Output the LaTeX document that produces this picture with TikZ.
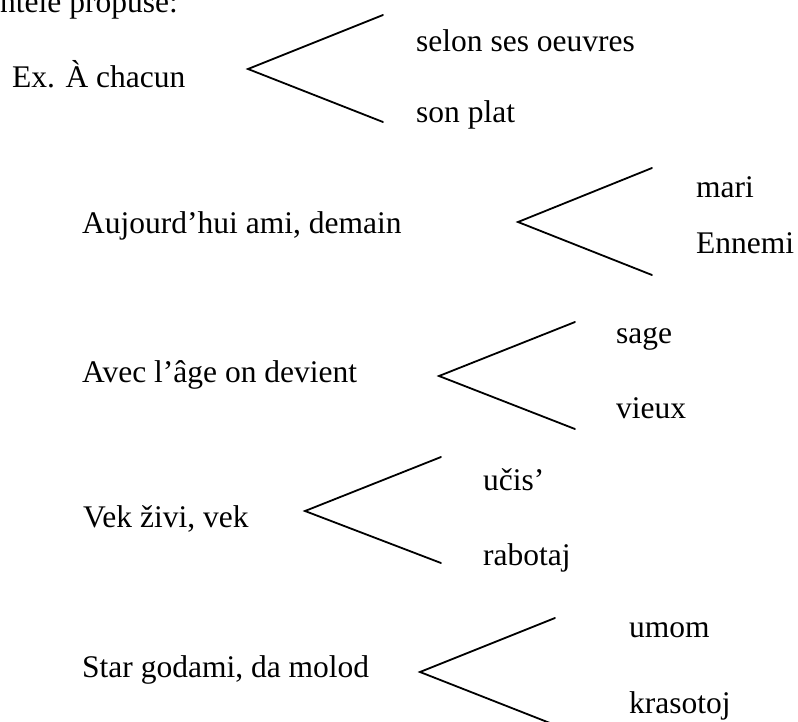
\documentclass[tikz,border=0pt]{standalone}
\usepackage{fontspec}
\setmainfont{Liberation Serif}
\begin{document}
\begin{tikzpicture}[x=1pt,y=-1pt,
  txt/.style={anchor=base west,inner sep=0pt,font=\fontsize{31.5}{36}\selectfont},
  branch/.style={line width=1.8pt,line cap=round}]
\useasboundingbox (0,0) rectangle (798,721);
\clip (0,0) rectangle (798,721);
\node[txt] (head) at (0,12) {ntele propuse:};
% group 1
\node[txt] (l1) at (12,87) {Ex. À chacun};
\node[txt] (a1) at (416,51) {selon ses oeuvres};
\node[txt] (b1) at (416,122) {son plat};
\coordinate (v1) at (248,69);
\coordinate (u1) at (383,15);
\coordinate (d1) at (383,122);
\draw[branch] (u1) -- (v1) -- (d1);
% group 2
\node[txt] (l2) at (82,233) {Aujourd’hui ami, demain};
\node[txt] (a2) at (696,197) {mari};
\node[txt] (b2) at (696,253) {Ennemi};
\coordinate (v2) at (518,222);
\coordinate (u2) at (652,168);
\coordinate (d2) at (652,275);
\draw[branch] (u2) -- (v2) -- (d2);
% group 3
\node[txt] (l3) at (82,382) {Avec l’âge on devient};
\node[txt] (a3) at (616,343) {sage};
\node[txt] (b3) at (616,418) {vieux};
\coordinate (v3) at (439,376);
\coordinate (u3) at (575,322);
\coordinate (d3) at (575,429);
\draw[branch] (u3) -- (v3) -- (d3);
% group 4
\node[txt] (l4) at (83,527) {Vek živi, vek};
\node[txt] (a4) at (483,490) {učis’};
\node[txt] (b4) at (483,565) {rabotaj};
\coordinate (v4) at (305,511);
\coordinate (u4) at (441,457);
\coordinate (d4) at (441,563);
\draw[branch] (u4) -- (v4) -- (d4);
% group 5
\node[txt] (l5) at (82,677) {Star godami, da molod};
\node[txt] (a5) at (629,637) {umom};
\node[txt] (b5) at (629,713) {krasotoj};
\coordinate (v5) at (420,672);
\coordinate (u5) at (555,618);
\coordinate (d5) at (555,725);
\draw[branch] (u5) -- (v5) -- (d5);
\end{tikzpicture}
\end{document}
